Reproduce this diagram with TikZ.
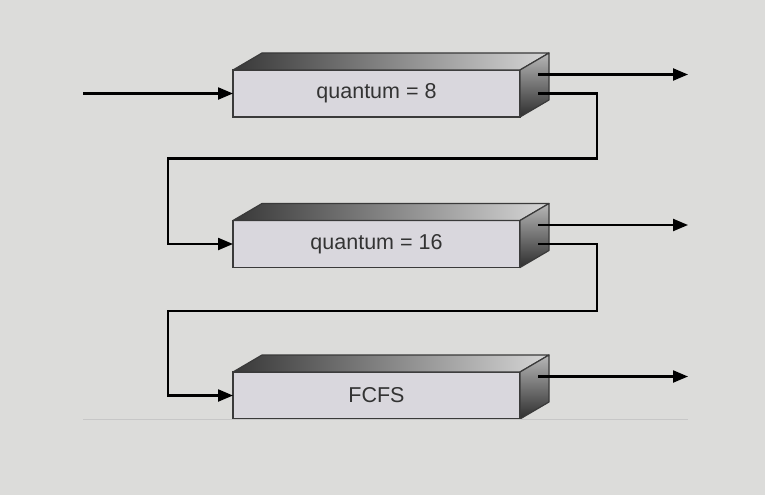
\documentclass[tikz,border=0pt]{standalone}
\usepackage{fontspec}
\setmainfont{Liberation Sans}
\usetikzlibrary{arrows.meta,calc}
\definecolor{bg}{HTML}{DCDCDA}
\definecolor{face}{HTML}{D9D7DD}
\definecolor{edgegray}{HTML}{3A3A3A}
\begin{document}
\begin{tikzpicture}[x=1pt,y=-1pt,
                    queue node/.style={rectangle,draw=edgegray,line width=1.2pt,fill=face,
                      minimum width=287pt,minimum height=47pt,inner sep=0pt,outer sep=0pt,
                      text=black!80,font=\fontsize{21.5}{25}\selectfont},
                    side/.style={draw=edgegray,line width=1.2pt,line join=round},
                    wire/.style={line width=2.2pt},
                    flow/.style={wire,-{Triangle[length=15pt,width=12pt]}}
                   ]
  \fill[bg] (0,0) rectangle (765,495);
  \useasboundingbox (0,0) rectangle (765,495);

  \node[queue node] (q8)   at (376.5,93.5)  {quantum = 8};
  \node[queue node] (q16)  at (376.5,244)   {quantum = 16};
  \node[queue node] (fcfs) at (376.5,395.5) {FCFS};

  \foreach \q in {q8,q16,fcfs} {
    \shade[side,left color=black!78,right color=black!16]
      (\q.north west) -- ++(29,-17) -- ($(\q.north east)+(29,-17)$) -- (\q.north east) -- cycle;
    \shade[side,shading angle=20,top color=black!28,bottom color=black!82]
      (\q.north east) -- ++(29,-17) -- ++(0,47) -- (\q.south east) -- cycle;
    \coordinate (\q out)  at ($(\q.east)+(18,-19)$);
    \coordinate (\q loop) at ($(\q.east)+(18,0)$);
  }

  \coordinate (src)  at (83,93.5);
  \coordinate (sink) at (688,93.5);

  \draw[black!22,line width=1pt] (src |- fcfs.south) -- (sink |- fcfs.south);

  \draw[flow] (src) -- (q8.west);
  \draw[flow] (q8out) -- (q8out -| sink);
  \draw[flow] (q16out) -- (q16out -| sink);
  \draw[flow] (fcfsout) -- (fcfsout -| sink);
  \draw[flow] (q8loop) -- ++(59,0) -- ++(0,65) -- ++(-429,0) |- (q16.west);
  \draw[flow] (q16loop) -- ++(59,0) -- ++(0,67) -- ++(-429,0) |- (fcfs.west);
\end{tikzpicture}
\end{document}
